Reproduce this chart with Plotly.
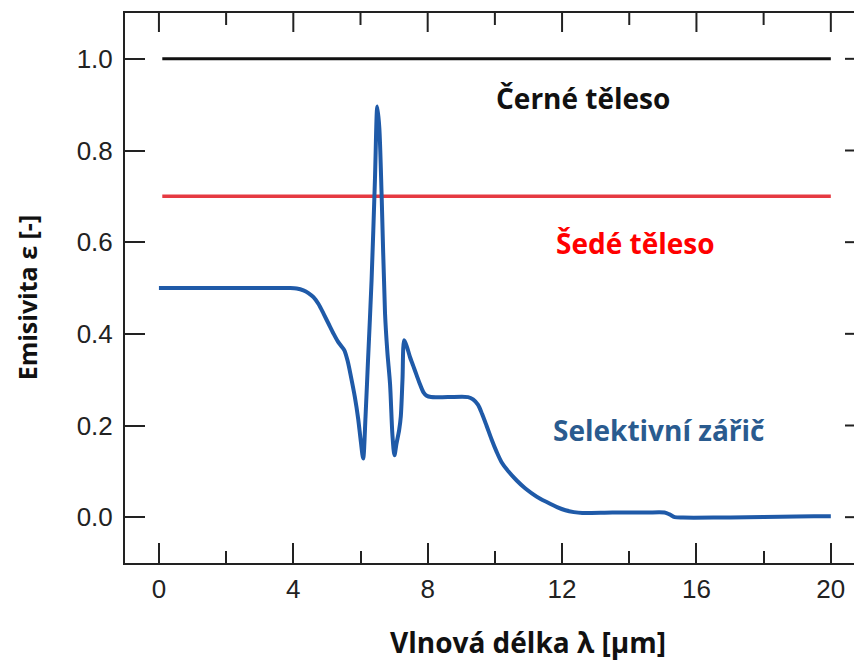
import plotly.graph_objects as go

# Selective emitter curve (wavelength in µm, emissivity)
wavelength = [0.0, 1.0, 2.0, 3.0, 3.6, 3.9, 4.1, 4.3, 4.45, 4.6, 4.75, 4.9, 5.05, 5.2, 5.32, 5.42,
              5.52, 5.62, 5.72, 5.83, 5.93, 6.01, 6.08, 6.15, 6.22, 6.33, 6.43, 6.50, 6.56, 6.63,
              6.73, 6.80, 6.88, 6.95, 7.01, 7.07, 7.15, 7.20, 7.25, 7.30, 7.38, 7.47, 7.57, 7.67,
              7.77, 7.87, 7.97, 8.1, 8.6, 9.2, 9.35, 9.5, 9.62, 9.75, 9.9, 10.05, 10.2, 10.4,
              10.65, 10.9, 11.1, 11.35, 11.6, 11.85, 12.1, 12.35, 12.6, 13.5, 14.5, 15.05, 15.2,
              15.35, 15.6, 16.5, 17.5, 18.5, 19.5, 20.0]
emissivity = [0.500, 0.500, 0.500, 0.500, 0.500, 0.500, 0.499, 0.495, 0.489, 0.480, 0.465, 0.444,
              0.422, 0.400, 0.384, 0.374, 0.364, 0.340, 0.305, 0.263, 0.215, 0.165, 0.128, 0.220,
              0.336, 0.517, 0.736, 0.896, 0.850, 0.700, 0.445, 0.360, 0.290, 0.180, 0.135, 0.160,
              0.190, 0.220, 0.300, 0.386, 0.372, 0.350, 0.330, 0.310, 0.290, 0.273, 0.265, 0.262,
              0.262, 0.262, 0.257, 0.245, 0.225, 0.200, 0.170, 0.143, 0.120, 0.100, 0.080, 0.063,
              0.052, 0.040, 0.031, 0.022, 0.015, 0.011, 0.009, 0.010, 0.010, 0.010, 0.006, 0.000,
              -0.001, -0.001, 0.000, 0.001, 0.002, 0.002]

black_x = [0.1, 20.0]
black_y = [1.0, 1.0]
grey_x = [0.1, 20.0]
grey_y = [0.7, 0.7]

labels = ["Černé těleso", "Šedé těleso", "Selektivní zářič"]
label_x = [12.62, 14.2, 14.88]
label_y = [0.915, 0.598, 0.19]
label_colors = ["#111111", "#ff0000", "#2a5b8f"]

x_major_ticks = [0, 4, 8, 12, 16, 20]
x_minor_ticks = [2, 6, 10, 14, 18]
y_major_ticks = [0.0, 0.2, 0.4, 0.6, 0.8, 1.0]

x_title = "Vlnová délka λ [μm]"
y_title = "Emisivita ε [-]"

INK = "#222222"
PLOT_W, PLOT_H = 729, 550  # plot area size in px (for tick lengths on the mirrored sides)

fig = go.Figure()
fig.add_trace(go.Scatter(x=black_x, y=black_y, mode="lines",
                         line=dict(color="#111111", width=3), showlegend=False))
fig.add_trace(go.Scatter(x=grey_x, y=grey_y, mode="lines",
                         line=dict(color="#e63a42", width=3.5), showlegend=False))
fig.add_trace(go.Scatter(x=wavelength, y=emissivity, mode="lines",
                         line=dict(color="#1f5aa8", width=4, shape="spline", smoothing=0.8),
                         showlegend=False))

for t, x, y, c in zip(labels, label_x, label_y, label_colors):
    fig.add_annotation(x=x, y=y, xref="x", yref="y", text="<b>%s</b>" % t, showarrow=False,
                       font=dict(family="Open Sans", size=28, color=c))

fig.add_annotation(x=0.553, y=-0.1436, xref="paper", yref="paper", text="<b>%s</b>" % x_title,
                   showarrow=False, xanchor="center", yanchor="middle",
                   font=dict(family="Open Sans", size=28, color="#111111"))
fig.add_annotation(x=-0.134, y=0.4836, xref="paper", yref="paper", text="<b>%s</b>" % y_title,
                   showarrow=False, textangle=-90, xanchor="center", yanchor="middle",
                   font=dict(family="Open Sans", size=25, color="#111111"))

# mirrored ticks along the top frame and the right edge
for v in x_major_ticks:
    fig.add_shape(type="line", xref="x", yref="paper", x0=v, x1=v, y0=1, y1=1 - 19 / PLOT_H,
                  line=dict(color=INK, width=2))
for v in x_minor_ticks:
    fig.add_shape(type="line", xref="x", yref="paper", x0=v, x1=v, y0=1, y1=1 - 12 / PLOT_H,
                  line=dict(color=INK, width=2))
for v in y_major_ticks:
    fig.add_shape(type="line", xref="paper", yref="y", x0=1, x1=1 - 9 / PLOT_W, y0=v, y1=v,
                  line=dict(color=INK, width=2))

fig.update_layout(
    width=854, height=662,
    margin=dict(l=125, r=0, t=13, b=99),
    paper_bgcolor="white", plot_bgcolor="white",
    font=dict(family="Liberation Sans", size=26, color=INK),
    xaxis=dict(range=[-1.01, 20.69], tickmode="array", tickvals=x_major_ticks,
               ticks="inside", ticklen=20, tickwidth=2, tickcolor=INK,
               ticklabelstandoff=2,
               minor=dict(ticks="inside", ticklen=12, tickwidth=2, tickvals=x_minor_ticks,
                          tickcolor=INK, showgrid=False),
               showline=True, linewidth=2, linecolor=INK, mirror=True,
               showgrid=False, zeroline=False),
    yaxis=dict(range=[-0.1, 1.1], tickmode="array", tickvals=y_major_ticks, tickformat=".1f",
               ticks="inside", ticklen=20, tickwidth=2, tickcolor=INK,
               ticklabelstandoff=5,
               showline=True, linewidth=2, linecolor=INK, mirror=False,
               showgrid=False, zeroline=False),
)

fig.write_html("out.html", config={"displayModeBar": False},
               post_script="document.body.style.margin='0px';document.body.style.overflow='hidden';")
